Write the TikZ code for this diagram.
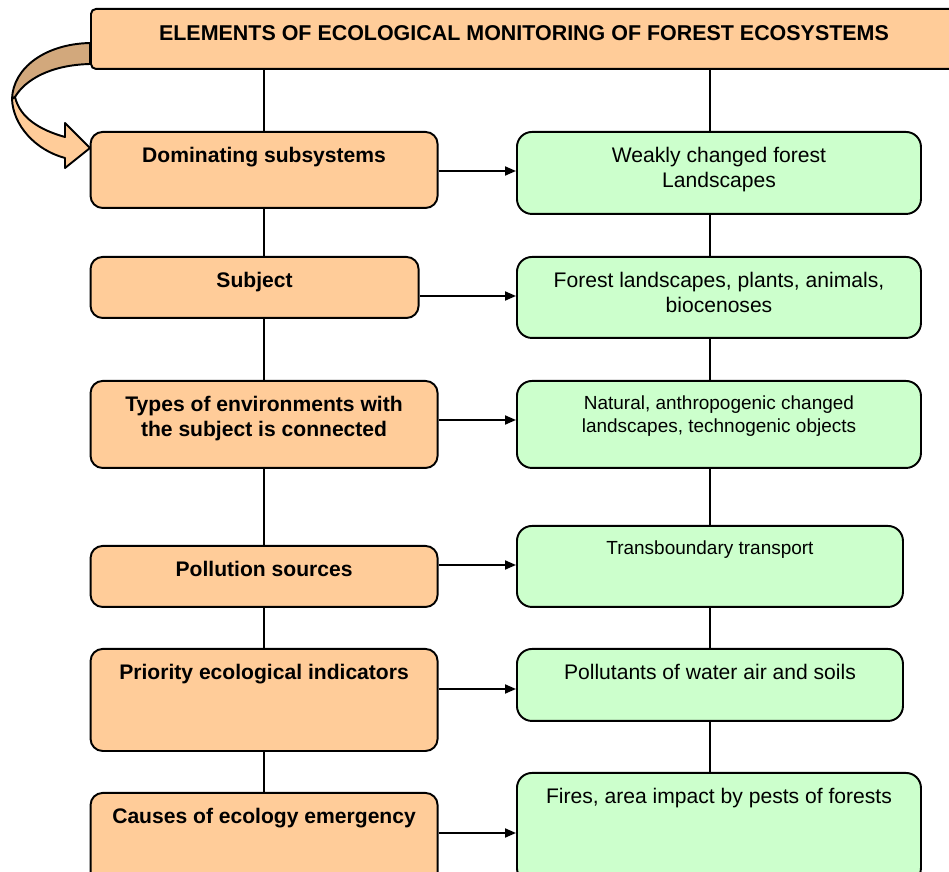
\documentclass[tikz,border=0pt]{standalone}
\usepackage{fontspec}
\setmainfont{Liberation Sans}
\usetikzlibrary{arrows.meta}
\definecolor{FMOrange}{HTML}{FFCC99}
\definecolor{FMGreen}{HTML}{CCFFCC}
\definecolor{FMRibbon}{HTML}{D2A87C}

\tikzset{
  lbox/.style={draw, fill=FMOrange, line width=1.1pt, rounded corners=2.4mm,
    anchor=north west, inner sep=0pt},
  rbox/.style={lbox, fill=FMGreen, rounded corners=3mm},
  ltext/.style={label={[anchor=north, yshift=-3.1mm, inner sep=0pt, align=center,
    font=\fontsize{12}{14.5}\selectfont\bfseries]north:#1}},
  rtext/.style={label={[anchor=north, yshift=-3.1mm, inner sep=0pt, align=center,
    font=\fontsize{12}{14.2}\selectfont]north:#1}},
  stext/.style={label={[anchor=north, yshift=-3.1mm, inner sep=0pt, align=center,
    font=\fontsize{10.8}{13}\selectfont]north:#1}},
  link/.style={line width=1.1pt},
  arr/.style={line width=1.1pt, -{Triangle[length=2.2mm,width=1.8mm]}},
}

\begin{document}
\begin{tikzpicture}[x=0.2mm,y=-0.2mm]
\useasboundingbox (0,0) rectangle (949,872);
\clip (0,0) rectangle (949,872);

% twisted ribbon arrow on the left
\fill[FMRibbon, draw=black, line width=1.1pt, line join=round] (90,43) .. controls (45,44) and (13,68) .. (12,99)
  -- (15,97) .. controls (25,80) and (50,65) .. (90,64) -- cycle;
\fill[FMOrange, draw=black, line width=1.1pt, line join=round] (12,99) .. controls (13,125) and (35,150) .. (65,158)
  -- (65,168) -- (90,148) -- (65,123) -- (65,137) .. controls (40,130) and (20,118) .. (15,97) -- cycle;

% header
\node[lbox, rounded corners=1mm, minimum width=173.2mm, minimum height=12mm,
  label={[anchor=north, yshift=-3.4mm, inner sep=0pt, font=\fontsize{12.2}{14}\selectfont\bfseries]north:ELEMENTS OF ECOLOGICAL MONITORING OF FOREST ECOSYSTEMS}]
  (banner) at (90,8) {};

% left column
\node[lbox, minimum width=69.4mm, minimum height=15.2mm, ltext={Dominating subsystems}] (L1) at (89.6,131) {};
\node[lbox, minimum width=65.6mm, minimum height=12.2mm, ltext={Subject}] (L2) at (89.6,256) {};
\node[lbox, minimum width=69.4mm, minimum height=17.4mm, ltext={Types of environments with\\the subject is connected}] (L3) at (89.6,380) {};
\node[lbox, minimum width=69.4mm, minimum height=12.2mm, ltext={Pollution sources}] (L4) at (89.6,545) {};
\node[lbox, minimum width=69.4mm, minimum height=20.4mm, ltext={Priority ecological indicators}] (L5) at (89.6,648) {};
\node[lbox, minimum width=69.4mm, minimum height=20mm, ltext={Causes of ecology emergency}] (L6) at (89.6,792) {};

% right column
\node[rbox, minimum width=80.8mm, minimum height=16.4mm, rtext={Weakly changed forest\\Landscapes}] (R1) at (516,131) {};
\node[rbox, minimum width=80.8mm, minimum height=16.2mm, rtext={Forest landscapes, plants, animals,\\biocenoses}] (R2) at (516,256) {};
\node[rbox, minimum width=80.8mm, minimum height=17.4mm, stext={Natural, anthropogenic changed\\landscapes, technogenic objects}] (R3) at (516,380) {};
\node[rbox, minimum width=77.2mm, minimum height=16.2mm, stext={Transboundary transport}] (R4) at (516,525) {};
\node[rbox, minimum width=77.2mm, minimum height=14.4mm, rtext={Pollutants of water air and soils}] (R5) at (516,648) {};
\node[rbox, minimum width=80.8mm, minimum height=22mm, rtext={Fires, area impact by pests of forests}] (R6) at (516,772) {};

% vertical links
\draw[link] (L1.north |- banner.south) -- (L1.north);
\draw[link] (R4.north |- banner.south) -- (R4.north |- R1.north);
\foreach \a/\b in {1/2,2/3,3/4,4/5,5/6} {
  \draw[link] (L1.north |- L\a.south) -- (L1.north |- L\b.north);
  \draw[link] (R4.north |- R\a.south) -- (R4.north |- R\b.north);
}

% horizontal arrows
\foreach \i/\dy in {1/8mm,2/8mm,3/8mm,4/4mm,5/8.2mm,6/8.2mm}
  \draw[arr] ([yshift=-\dy]L\i.north east) coordinate (a\i) -- (a\i -| R\i.west);
\end{tikzpicture}
\end{document}
